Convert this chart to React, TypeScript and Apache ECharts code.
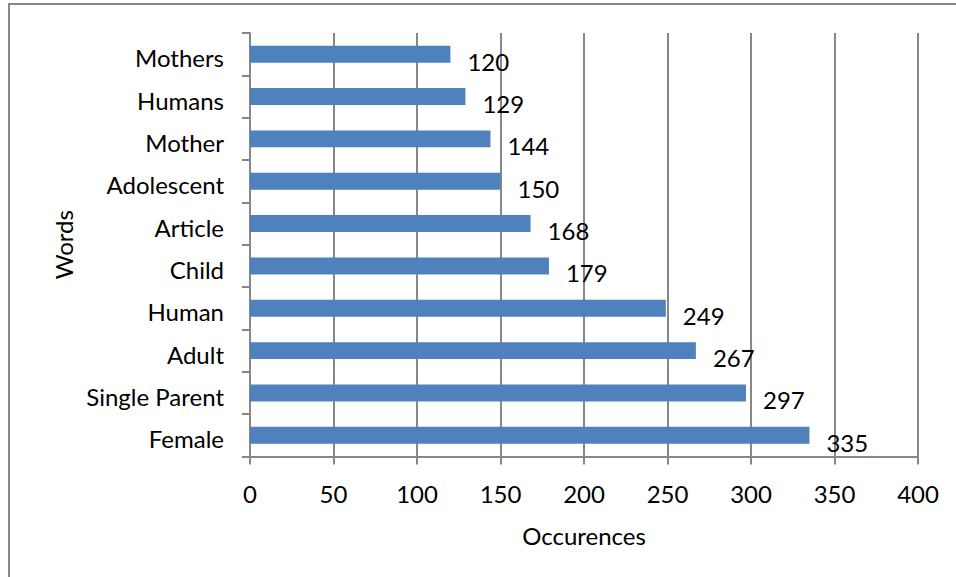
import React, { useEffect, useRef } from "react";
import * as echarts from "echarts";

// Word frequencies, listed top to bottom
const words = [
  "Mothers",
  "Humans",
  "Mother",
  "Adolescent",
  "Article",
  "Child",
  "Human",
  "Adult",
  "Single Parent",
  "Female",
];
const occurrences = [120, 129, 144, 150, 168, 179, 249, 267, 297, 335];

const xMin = 0;
const xMax = 400;
const xStep = 50;

const FONT = "Lato, 'Open Sans', 'Noto Sans', sans-serif";
const FS = 24;
const GRAY = "#878787";
const BAR = "#4F81BD";

export default function App() {
  const ref = useRef<HTMLDivElement>(null);

  useEffect(() => {
    if (!ref.current) return;
    const chart = echarts.init(ref.current, null, { renderer: "svg" });
    chart.setOption({
      animation: false,
      backgroundColor: "#ffffff",
      textStyle: { fontFamily: FONT },
      graphic: [
        {
          type: "rect",
          shape: { x: 9, y: 4, width: 1200, height: 900 },
          style: { fill: "none", stroke: GRAY, lineWidth: 2 },
          silent: true,
        },
      ],
      grid: { left: 250, right: 38, top: 33, bottom: 120.5 },
      xAxis: {
        type: "value",
        min: xMin,
        max: xMax,
        interval: xStep,
        name: "Occurences",
        nameLocation: "middle",
        nameGap: 67,
        nameTextStyle: { fontFamily: FONT, fontSize: FS, color: "#000" },
        axisLine: { show: true, lineStyle: { color: GRAY, width: 2 } },
        axisTick: { show: true, length: 8, lineStyle: { color: GRAY, width: 2 } },
        axisLabel: { fontFamily: FONT, fontSize: FS, color: "#000", margin: 25 },
        splitLine: { show: true, lineStyle: { color: GRAY, width: 2 } },
      },
      yAxis: {
        type: "category",
        data: words,
        inverse: true,
        name: "Words",
        nameLocation: "middle",
        nameGap: 172,
        nameRotate: 90,
        nameTextStyle: { fontFamily: FONT, fontSize: FS, color: "#000" },
        axisLine: { show: true, lineStyle: { color: GRAY, width: 2 } },
        axisTick: { show: true, length: 8, alignWithLabel: false, lineStyle: { color: GRAY, width: 2 } },
        axisLabel: {
          fontFamily: FONT,
          fontSize: FS,
          color: "#000",
          margin: 26,
          formatter: (v: string) => `{w|${v}}`,
          rich: {
            w: {
              fontFamily: FONT,
              fontSize: FS,
              color: "#000",
              padding: [7, 0, 0, 0],
            },
          },
        },
        splitLine: { show: false },
      },
      series: [
        {
          type: "bar",
          data: occurrences,
          barWidth: "40%",
          itemStyle: { color: BAR },
          label: {
            show: true,
            position: "right",
            distance: 17,
            offset: [0, 7],
            fontFamily: FONT,
            fontSize: FS,
            color: "#000",
          },
        },
      ],
    });
    return () => chart.dispose();
  }, []);

  return (
    <div
      ref={ref}
      style={{ position: "absolute", left: 0, top: 0, width: 956, height: 577 }}
    />
  );
}
